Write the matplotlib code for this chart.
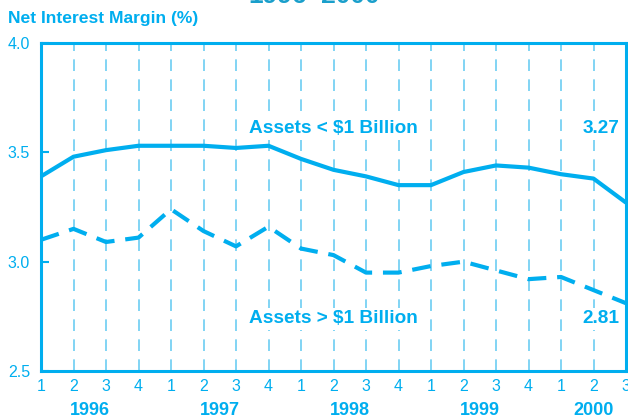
import matplotlib
matplotlib.use("Agg")
import matplotlib.pyplot as plt
from matplotlib import font_manager

names = {f.name for f in font_manager.fontManager.ttflist}
FONT = ['Liberation Sans Narrow', 'Liberation Sans', 'DejaVu Sans'] if 'Liberation Sans Narrow' in names else ['Liberation Sans', 'DejaVu Sans']
plt.rcParams['font.family'] = FONT

quarters = ["1", "2", "3", "4"] * 4 + ["1", "2", "3"]
years = ["1996", "1997", "1998", "1999", "2000"]
small_banks = [3.39, 3.48, 3.51, 3.53, 3.53, 3.53, 3.52, 3.53,
               3.47, 3.42, 3.39, 3.35, 3.35, 3.41, 3.44, 3.43,
               3.40, 3.38, 3.27]
large_banks = [3.10, 3.15, 3.09, 3.11, 3.24, 3.14, 3.07, 3.16,
               3.06, 3.03, 2.95, 2.95, 2.98, 3.00, 2.96, 2.92,
               2.93, 2.87, 2.81]
title = "1996\u20132000"
ylabel = "Net Interest Margin (%)"
label_small = "Assets < $1 Billion"
label_large = "Assets > $1 Billion"

BLUE = "#00AEEF"
GRID = "#6CCDF2"
TITLE = "#1A9FCB"

fig = plt.figure(figsize=(6.28, 4.18), dpi=100)
ax = fig.add_axes([41/628, 47/418, 585/628, 328/418])
x = list(range(len(quarters)))

for i in x[1:-1]:
    ax.axvline(i, color=GRID, lw=1.2, dashes=(7, 5), zorder=1)

ax.plot(x, small_banks, color=BLUE, lw=3.0, solid_capstyle='butt', zorder=3, clip_on=False)
ax.plot(x, large_banks, color=BLUE, lw=3.0, dashes=(4.5, 2.6), zorder=3, clip_on=False)

ax.set_xlim(0, len(quarters) - 1)
ax.set_ylim(2.5, 4.0)
ax.set_yticks([2.5, 3.0, 3.5, 4.0])
ax.set_yticklabels(["2.5", "3.0", "3.5", "4.0"])
ax.tick_params(axis='y', direction='in', length=6, width=1.5, color=BLUE,
               labelcolor=BLUE, labelsize=11.5, pad=8)
ax.set_xticks(x)
ax.set_xticklabels(quarters)
ax.tick_params(axis='x', length=0, labelcolor=BLUE, labelsize=11.5, pad=6)
for s in ax.spines.values():
    s.set_color(BLUE)
    s.set_linewidth(2.2)

year_pos = [1.5, 5.5, 9.5, 13.5, 17]
for p, y in zip(year_pos, years):
    ax.text(p, -0.119, y, transform=ax.get_xaxis_transform(), ha='center', va='center',
            color=BLUE, fontsize=13, fontweight='bold')

box = dict(facecolor='white', edgecolor='none', pad=1.5)
ax.text(11.6, 3.607, label_small, ha='right', va='center', color=BLUE, fontsize=13.7,
        fontweight='bold', bbox=box, zorder=4)
ax.text(17.8, 3.607, "3.27", ha='right', va='center', color=BLUE, fontsize=13.7,
        fontweight='bold', bbox=box, zorder=4)
ax.text(11.6, 2.738, label_large, ha='right', va='center', color=BLUE, fontsize=13.7,
        fontweight='bold', bbox=box, zorder=4)
ax.text(17.8, 2.738, "2.81", ha='right', va='center', color=BLUE, fontsize=13.7,
        fontweight='bold', bbox=box, zorder=4)

fig.text(8/628, 1 - 18/418, ylabel, ha='left', va='center', color=BLUE, fontsize=12.6, fontweight='bold')
fig.text(0.5, 1 + 4/418, title, ha='center', va='center', color=TITLE, fontsize=19, fontweight='bold')

fig.savefig("out.png", dpi=100)
